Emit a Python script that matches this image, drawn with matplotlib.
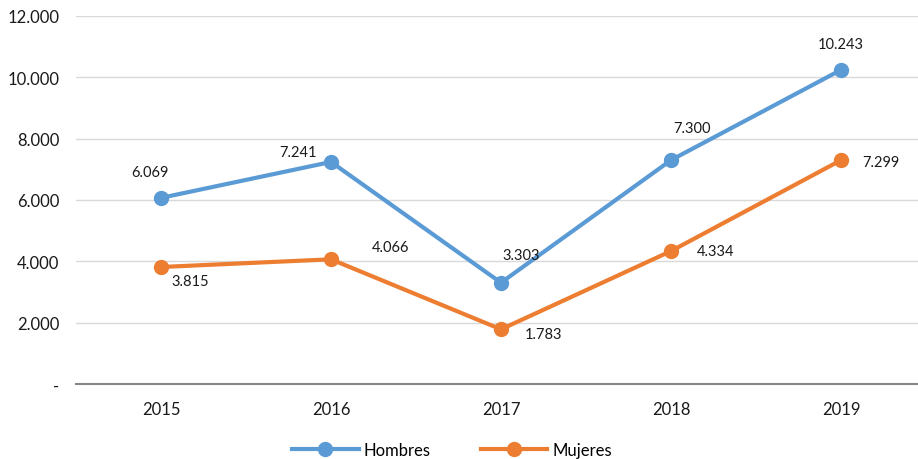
import matplotlib.pyplot as plt
from matplotlib.ticker import FuncFormatter

# Data
years = ['2015', '2016', '2017', '2018', '2019']
hombres = [6069, 7241, 3303, 7300, 10243]
mujeres = [3815, 4066, 1783, 4334, 7299]

# label offsets in pixels (dx, dy) relative to each point
off_h = [(-11, 26), (-33, 10), (20, 28), (21, 32), (0, 26)]
off_m = [(29, -14), (60, 12), (43, -5), (45, 0), (40, -2)]

blue = '#5B9BD5'
orange = '#ED7D31'

plt.rcParams['font.family'] = ['Lato', 'DejaVu Sans']

fig = plt.figure(figsize=(9.18, 4.6), dpi=100)
ax = fig.add_axes([76 / 918, 75 / 460, 850 / 918, 368 / 460])

x = list(range(len(years)))
ax.plot(x, hombres, color=blue, lw=3, marker='o', ms=10, label='Hombres', zorder=3)
ax.plot(x, mujeres, color=orange, lw=3, marker='o', ms=10, label='Mujeres', zorder=3)


def fmt(v):
    return f'{v:,}'.replace(',', '.')


for xi, v, (dx, dy) in zip(x, hombres, off_h):
    ax.annotate(fmt(v), (xi, v), xytext=(dx, dy), textcoords='offset pixels',
                ha='center', va='center', fontsize=10.5, color='#1a1a1a')
for xi, v, (dx, dy) in zip(x, mujeres, off_m):
    ax.annotate(fmt(v), (xi, v), xytext=(dx, dy), textcoords='offset pixels',
                ha='center', va='center', fontsize=10.5, color='#1a1a1a')

ax.set_xlim(-0.5, 4.5)
ax.set_ylim(0, 12000)
ax.set_yticks(range(0, 12001, 2000))
ax.yaxis.set_major_formatter(FuncFormatter(lambda v, p: '-' if v == 0 else fmt(int(v))))
ax.set_xticks(x)
ax.set_xticklabels(years)
ax.tick_params(length=0, labelsize=12, colors='#1a1a1a')
ax.tick_params(axis='x', pad=12)
ax.tick_params(axis='y', pad=12)
ax.grid(axis='y', color='#D9D9D9', lw=1)
ax.set_axisbelow(True)
for s in ['top', 'right', 'left']:
    ax.spines[s].set_visible(False)
ax.spines['bottom'].set_color('#868686')
ax.spines['bottom'].set_linewidth(1.5)

fig.legend(loc='center', bbox_to_anchor=(452 / 918, 9 / 460), ncol=2, frameon=False,
           fontsize=12, handlelength=4, columnspacing=3, handletextpad=0.3)

fig.savefig('out.png')
